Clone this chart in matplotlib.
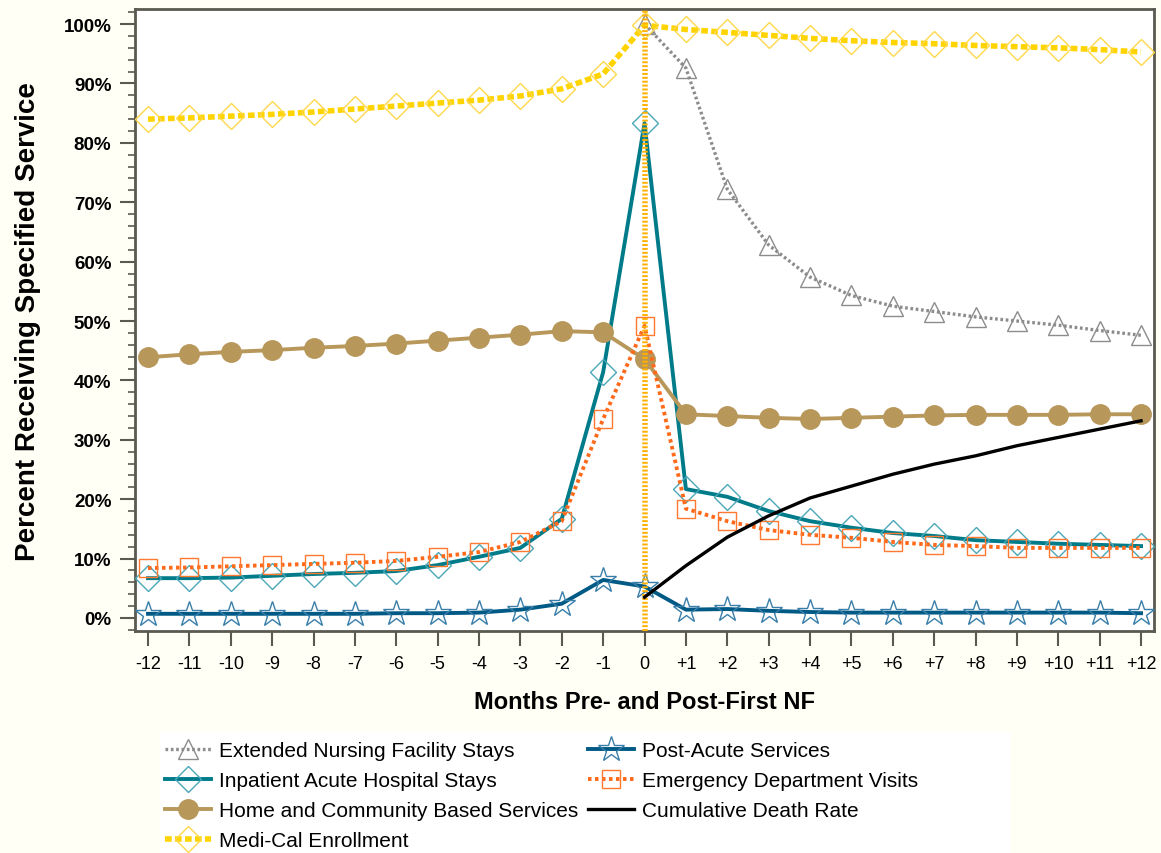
import matplotlib
matplotlib.use("Agg")
import matplotlib.pyplot as plt
from matplotlib.patches import Rectangle
from matplotlib.ticker import MultipleLocator, PercentFormatter

plt.rcParams['font.family'] = ['Liberation Sans', 'DejaVu Sans']

months = list(range(-12, 13))
month_labels = [str(m) if m <= 0 else f"+{m}" for m in months]
post_months = list(range(0, 13))

medi_cal = [84.0, 84.2, 84.5, 84.8, 85.2, 85.7, 86.2, 86.7, 87.2, 87.9, 89.1, 91.6,
            99.8, 99.1, 98.6, 98.1, 97.6, 97.2, 96.9, 96.7, 96.4, 96.2, 96.0, 95.7, 95.3]
ext_nursing = [100.0, 92.6, 72.2, 62.8, 57.4, 54.3, 52.5, 51.6, 50.7, 50.0, 49.3, 48.4, 47.6]
hcbs = [43.9, 44.4, 44.8, 45.1, 45.5, 45.8, 46.2, 46.7, 47.2, 47.7, 48.3, 48.1,
        43.6, 34.3, 34.0, 33.7, 33.5, 33.7, 33.9, 34.1, 34.2, 34.2, 34.2, 34.3, 34.3]
inpatient = [6.7, 6.7, 6.8, 7.1, 7.4, 7.6, 7.9, 8.9, 10.3, 11.8, 16.7, 41.4,
             83.3, 21.7, 20.4, 18.0, 16.3, 15.2, 14.3, 13.8, 13.1, 12.8, 12.5, 12.3, 12.1]
emergency = [8.4, 8.5, 8.7, 8.9, 9.1, 9.3, 9.6, 10.3, 11.1, 12.8, 16.3, 33.5,
             49.2, 18.4, 16.3, 14.8, 14.0, 13.5, 12.8, 12.3, 12.1, 11.8, 11.8, 11.8, 11.8]
post_acute = [0.7, 0.7, 0.7, 0.7, 0.7, 0.7, 0.8, 0.8, 0.9, 1.4, 2.4, 6.4,
              5.3, 1.4, 1.5, 1.2, 1.0, 0.9, 0.9, 0.9, 0.9, 0.9, 0.9, 0.9, 0.8]
death_rate = [3.5, 8.8, 13.6, 17.2, 20.2, 22.2, 24.2, 25.9, 27.3, 29.0, 30.4, 31.8, 33.2]

bg = '#FFFFF5'
fig = plt.figure(figsize=(11.61, 8.54), dpi=100, facecolor=bg)
ax = fig.add_axes([0.1163, 0.26, 0.8777, 0.728])
ax.set_facecolor('white')

# reference line at the first nursing-facility month
ax.axvline(0, color='#FFB000', lw=4, ls=(0, (0.35, 0.35)), zorder=6)

ms_kw = dict(markerfacecolor='none', markeredgewidth=1.0)

h_enf, = ax.plot(post_months, ext_nursing, color='#8C8C8C', lw=2.4, ls=(0, (0.8, 0.8)),
                 marker='^', markersize=14, markeredgecolor='#8C8C8C', zorder=3, **ms_kw)
h_inp, = ax.plot(months, inpatient, color='#007B8A', lw=2.8,
                 marker='D', markersize=13, markeredgecolor='#4AA7B8', zorder=4, **ms_kw)
h_hcbs, = ax.plot(months, hcbs, color='#B8975A', lw=2.8,
                  marker='o', markersize=14, markerfacecolor='#B8975A',
                  markeredgecolor='#B8975A', zorder=4)
h_medi, = ax.plot(months, medi_cal, color='#FFD400', lw=4, ls=(0, (1.2, 0.6)),
                  marker='D', markersize=13, markeredgecolor='#FFD84A', zorder=3, **ms_kw)
h_post, = ax.plot(months, post_acute, color='#005A85', lw=2.8,
                  marker='*', markersize=19, markeredgecolor='#3A7FAA', zorder=4, **ms_kw)
h_ed, = ax.plot(months, emergency, color='#FF6A1A', lw=2.8, ls=(0, (0.9, 0.9)),
                marker='s', markersize=13, markeredgecolor='#FF7A30', zorder=5, **ms_kw)
h_death, = ax.plot(post_months, death_rate, color='black', lw=2.4, zorder=7)

ax.set_xlim(-12.314, 12.314)
ax.set_ylim(-2.19, 102.5)
ax.set_xticks(months)
ax.set_xticklabels(month_labels, fontsize=13)
ax.yaxis.set_major_locator(MultipleLocator(10))
ax.yaxis.set_minor_locator(MultipleLocator(2))
ax.yaxis.set_major_formatter(PercentFormatter(decimals=0))
for lbl in ax.get_yticklabels():
    lbl.set_fontweight('bold')
    lbl.set_fontsize(13.5)

frame_c = '#5A5A50'
for s in ax.spines.values():
    s.set_color(frame_c)
    s.set_linewidth(2)
ax.tick_params(axis='y', which='major', length=11, width=1.5, color=frame_c, pad=6)
ax.tick_params(axis='y', which='minor', length=5, width=1.2, color=frame_c)
ax.tick_params(axis='x', which='major', length=11, width=1.5, color=frame_c, pad=6)

ax.set_xlabel('Months Pre- and Post-First NF', fontsize=17, fontweight='bold', labelpad=13)
ax.set_ylabel('Percent Receiving Specified Service', fontsize=20, fontweight='bold', labelpad=16)

# white panel behind the legend
fig.add_artist(Rectangle((160 / 1161, 0), 850 / 1161, 121 / 854, transform=fig.transFigure,
                         facecolor='white', edgecolor='none', zorder=0))

handles = [h_enf, h_inp, h_hcbs, h_medi, h_post, h_ed, h_death]
labels = ['Extended Nursing Facility Stays', 'Inpatient Acute Hospital Stays',
          'Home and Community Based Services', 'Medi-Cal Enrollment',
          'Post-Acute Services', 'Emergency Department Visits', 'Cumulative Death Rate']
leg = fig.legend(handles, labels, ncol=2, loc='upper left', bbox_to_anchor=(165 / 1161, 1 - 742 / 854),
                 frameon=False, fontsize=15, handlelength=2.2, handletextpad=0.38,
                 columnspacing=0.5, labelspacing=0.53, borderpad=0, borderaxespad=0)

fig.savefig('out.png', dpi=100, facecolor=bg)
